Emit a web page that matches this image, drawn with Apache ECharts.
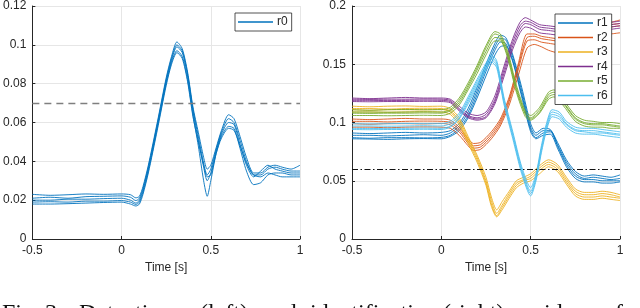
<!DOCTYPE html>
<html>
<head>
<meta charset="utf-8">
<script src="https://cdn.jsdelivr.net/npm/echarts@6/dist/echarts.min.js"></script>
<style>
html,body{margin:0;padding:0;background:#fff;}
#chart{width:640px;height:308px;}
</style>
</head>
<body>
<div id="chart"></div>
<script>
// ---------- data ----------
const X_TICKS = [-0.5, 0, 0.5, 1];
const LEFT_Y_MAX = 0.12, LEFT_Y_STEP = 0.02;
const RIGHT_Y_MAX = 0.2, RIGHT_Y_STEP = 0.05;
const LEFT_THRESHOLD = 0.07;
const RIGHT_THRESHOLD = 0.06;
const X_LABEL = 'Time [s]';
const CAPTION_WORDS = ['Fig.', '3:', 'Detection', '(left)', 'and', 'identification', '(right)', 'residues', 'of'];

// detection residue r0 (left)
const R0_T = [-0.5,-0.4,-0.3,-0.2,-0.1,0,0.05,0.08,0.1,0.12,0.15,0.2,0.25,0.28,0.31,0.34,0.37,0.4,0.43,0.46,0.48,0.5,0.53,0.56,0.6,0.63,0.66,0.7,0.74,0.78,0.82,0.86,0.9,0.95,1.0];
const R0_A = [0.023,0.0225,0.0228,0.0232,0.023,0.0232,0.0228,0.0212,0.022,0.027,0.038,0.06,0.083,0.094,0.1015,0.098,0.086,0.068,0.055,0.042,0.036,0.038,0.047,0.056,0.064,0.062,0.054,0.042,0.034,0.034,0.037,0.038,0.037,0.036,0.038];
const R0_B = [0.021,0.0215,0.021,0.0218,0.022,0.0222,0.0215,0.0198,0.021,0.026,0.037,0.059,0.082,0.093,0.1,0.097,0.085,0.067,0.053,0.039,0.033,0.036,0.046,0.055,0.062,0.06,0.052,0.04,0.033,0.033,0.036,0.037,0.036,0.035,0.035];
const R0_C = [0.02,0.02,0.0205,0.0205,0.0208,0.021,0.02,0.0185,0.02,0.025,0.036,0.058,0.081,0.092,0.099,0.096,0.084,0.066,0.051,0.037,0.03,0.034,0.045,0.054,0.06,0.059,0.05,0.038,0.032,0.035,0.038,0.036,0.035,0.034,0.034];
const R0_D = [0.019,0.0192,0.019,0.0195,0.0195,0.0198,0.019,0.0178,0.019,0.024,0.035,0.057,0.08,0.091,0.097,0.094,0.082,0.064,0.048,0.03,0.022,0.03,0.044,0.053,0.058,0.057,0.048,0.035,0.028,0.029,0.033,0.034,0.034,0.033,0.033];
const R0_E = [0.018,0.018,0.0182,0.0185,0.0188,0.019,0.018,0.017,0.018,0.023,0.034,0.056,0.079,0.09,0.096,0.093,0.081,0.063,0.05,0.038,0.032,0.033,0.044,0.052,0.057,0.056,0.049,0.039,0.033,0.032,0.034,0.033,0.032,0.032,0.032];

// identification residues r1..r6 (right)
const R1_T = [-0.5,-0.4,-0.3,-0.2,-0.1,0,0.05,0.1,0.15,0.2,0.25,0.3,0.33,0.36,0.4,0.45,0.5,0.53,0.57,0.61,0.65,0.7,0.75,0.8,0.85,0.9,0.95,1];
const R1_A = [0.091,0.0905,0.091,0.0915,0.091,0.0915,0.093,0.099,0.112,0.13,0.15,0.168,0.175,0.173,0.158,0.13,0.099,0.091,0.095,0.094,0.083,0.068,0.058,0.054,0.055,0.054,0.053,0.055];
const R1_B = [0.089,0.089,0.0885,0.089,0.0895,0.089,0.091,0.097,0.109,0.127,0.147,0.165,0.172,0.171,0.156,0.127,0.096,0.089,0.093,0.093,0.081,0.066,0.056,0.052,0.053,0.052,0.051,0.052];
const R1_C = [0.087,0.0865,0.087,0.087,0.0868,0.0872,0.089,0.095,0.106,0.124,0.144,0.162,0.169,0.168,0.153,0.124,0.094,0.087,0.091,0.092,0.08,0.064,0.054,0.051,0.051,0.05,0.05,0.05];
const R1_D = [0.086,0.0858,0.0855,0.086,0.0862,0.086,0.088,0.093,0.104,0.121,0.14,0.158,0.165,0.166,0.152,0.122,0.092,0.086,0.089,0.09,0.078,0.062,0.052,0.049,0.049,0.048,0.048,0.049];

const R2_T = [-0.5,-0.4,-0.3,-0.2,-0.1,0,0.05,0.1,0.15,0.18,0.22,0.28,0.33,0.38,0.43,0.48,0.52,0.56,0.6,0.65,0.7,0.75,0.8,0.85,0.9,0.95,1];
const R2_A = [0.103,0.1025,0.103,0.1035,0.103,0.103,0.102,0.096,0.086,0.082,0.083,0.092,0.103,0.122,0.15,0.176,0.176,0.174,0.173,0.172,0.173,0.175,0.178,0.181,0.184,0.186,0.188];
const R2_B = [0.101,0.101,0.1005,0.101,0.1012,0.101,0.1,0.094,0.084,0.08,0.081,0.09,0.101,0.12,0.148,0.173,0.174,0.172,0.171,0.17,0.171,0.173,0.176,0.179,0.182,0.184,0.185];
const R2_C = [0.099,0.0985,0.099,0.099,0.0988,0.0992,0.098,0.092,0.082,0.078,0.079,0.088,0.099,0.118,0.145,0.17,0.171,0.169,0.168,0.167,0.169,0.171,0.174,0.177,0.18,0.182,0.183];
const R2_D = [0.096,0.096,0.0955,0.096,0.0962,0.096,0.095,0.089,0.08,0.076,0.077,0.086,0.097,0.115,0.14,0.164,0.167,0.165,0.162,0.16,0.163,0.166,0.169,0.172,0.175,0.176,0.177];

const R3_T = [-0.5,-0.4,-0.3,-0.2,-0.1,0,0.05,0.1,0.15,0.2,0.25,0.28,0.31,0.34,0.38,0.42,0.46,0.5,0.55,0.6,0.65,0.7,0.75,0.8,0.85,0.9,0.95,1];
const R3_A = [0.114,0.1135,0.114,0.1142,0.1138,0.114,0.112,0.104,0.088,0.072,0.053,0.036,0.025,0.032,0.041,0.05,0.053,0.056,0.063,0.068,0.064,0.053,0.043,0.04,0.04,0.041,0.04,0.038];
const R3_B = [0.112,0.112,0.1115,0.112,0.1122,0.112,0.11,0.102,0.086,0.07,0.05,0.033,0.022,0.029,0.039,0.048,0.051,0.054,0.061,0.066,0.062,0.051,0.041,0.038,0.038,0.039,0.038,0.036];
const R3_C = [0.111,0.1105,0.111,0.111,0.1108,0.1112,0.109,0.1,0.084,0.068,0.048,0.03,0.02,0.027,0.037,0.046,0.05,0.052,0.059,0.064,0.06,0.049,0.039,0.036,0.036,0.037,0.036,0.035];
const R3_D = [0.109,0.109,0.1088,0.109,0.1092,0.109,0.107,0.098,0.082,0.066,0.046,0.028,0.019,0.025,0.035,0.044,0.048,0.05,0.056,0.062,0.058,0.047,0.037,0.034,0.034,0.035,0.034,0.033];

const R4_T = [-0.5,-0.4,-0.3,-0.2,-0.1,0,0.05,0.1,0.15,0.2,0.25,0.3,0.35,0.4,0.44,0.47,0.5,0.55,0.6,0.65,0.7,0.75,0.8,0.85,0.9,0.95,1];
const R4_A = [0.121,0.1205,0.121,0.1215,0.121,0.121,0.12,0.114,0.108,0.106,0.109,0.123,0.148,0.172,0.186,0.19,0.188,0.184,0.183,0.182,0.181,0.18,0.181,0.183,0.185,0.186,0.187];
const R4_B = [0.12,0.1198,0.12,0.12,0.1202,0.12,0.119,0.112,0.106,0.104,0.107,0.12,0.145,0.169,0.183,0.187,0.186,0.182,0.181,0.18,0.179,0.178,0.179,0.181,0.183,0.184,0.185];
const R4_C = [0.119,0.119,0.1188,0.119,0.1192,0.119,0.118,0.111,0.105,0.103,0.105,0.118,0.142,0.166,0.18,0.185,0.184,0.18,0.179,0.178,0.177,0.176,0.177,0.179,0.181,0.182,0.183];
const R4_D = [0.118,0.1178,0.118,0.118,0.1182,0.118,0.117,0.11,0.104,0.102,0.104,0.116,0.139,0.163,0.177,0.182,0.181,0.177,0.176,0.175,0.174,0.174,0.175,0.177,0.179,0.18,0.181];

const R5_T = [-0.5,-0.4,-0.3,-0.2,-0.1,0,0.05,0.1,0.15,0.2,0.25,0.3,0.33,0.37,0.42,0.47,0.5,0.55,0.6,0.63,0.68,0.75,0.8,0.85,0.9,0.95,1];
const R5_A = [0.111,0.1105,0.111,0.1112,0.111,0.111,0.113,0.121,0.134,0.149,0.166,0.178,0.176,0.162,0.132,0.11,0.106,0.113,0.126,0.128,0.12,0.106,0.102,0.101,0.1,0.1,0.099];
const R5_B = [0.109,0.109,0.1088,0.109,0.1092,0.109,0.111,0.119,0.132,0.147,0.164,0.176,0.174,0.16,0.13,0.108,0.104,0.111,0.124,0.126,0.118,0.104,0.1,0.099,0.099,0.098,0.097];
const R5_C = [0.108,0.1078,0.108,0.108,0.1082,0.108,0.11,0.117,0.13,0.145,0.161,0.173,0.172,0.158,0.128,0.107,0.103,0.109,0.122,0.124,0.117,0.103,0.099,0.098,0.098,0.097,0.096];
const R5_D = [0.106,0.106,0.1058,0.106,0.1062,0.106,0.108,0.115,0.128,0.142,0.158,0.17,0.17,0.156,0.126,0.105,0.102,0.108,0.12,0.122,0.115,0.101,0.097,0.096,0.096,0.095,0.095];

const R6_T = [-0.5,-0.4,-0.3,-0.2,-0.1,0,0.05,0.1,0.15,0.2,0.25,0.28,0.31,0.35,0.4,0.45,0.5,0.53,0.56,0.59,0.62,0.66,0.7,0.75,0.8,0.85,0.9,0.95,1];
const R6_A = [0.099,0.0988,0.099,0.0992,0.099,0.099,0.101,0.108,0.122,0.137,0.151,0.158,0.153,0.122,0.092,0.062,0.044,0.056,0.08,0.1,0.111,0.109,0.101,0.096,0.095,0.095,0.094,0.093,0.092];
const R6_B = [0.097,0.097,0.0968,0.097,0.0972,0.097,0.099,0.106,0.12,0.135,0.149,0.156,0.151,0.12,0.09,0.06,0.041,0.054,0.078,0.098,0.109,0.107,0.099,0.094,0.093,0.093,0.092,0.091,0.09];
const R6_C = [0.095,0.0948,0.095,0.095,0.0952,0.095,0.097,0.104,0.118,0.133,0.147,0.154,0.149,0.118,0.088,0.058,0.039,0.052,0.076,0.096,0.107,0.105,0.098,0.093,0.092,0.091,0.091,0.09,0.089];
const R6_D = [0.094,0.0938,0.094,0.094,0.0942,0.094,0.096,0.103,0.116,0.131,0.145,0.152,0.147,0.116,0.086,0.056,0.037,0.05,0.074,0.094,0.105,0.103,0.096,0.091,0.09,0.09,0.089,0.088,0.087];

// ---------- styling ----------
const COLORS = {r0:'#0072BD', r1:'#0072BD', r2:'#D95319', r3:'#EDB120', r4:'#7E2F8E', r5:'#77AC30', r6:'#4DBEEE'};
const GROUPS_LEFT = [{name:'r0', t:R0_T, traces:[R0_A,R0_B,R0_C,R0_D,R0_E]}];
const GROUPS_RIGHT = [
  {name:'r1', t:R1_T, traces:[R1_A,R1_B,R1_C,R1_D]},
  {name:'r2', t:R2_T, traces:[R2_A,R2_B,R2_C,R2_D]},
  {name:'r3', t:R3_T, traces:[R3_A,R3_B,R3_C,R3_D]},
  {name:'r4', t:R4_T, traces:[R4_A,R4_B,R4_C,R4_D]},
  {name:'r5', t:R5_T, traces:[R5_A,R5_B,R5_C,R5_D]},
  {name:'r6', t:R6_T, traces:[R6_A,R6_B,R6_C,R6_D]}
];

const FONT = 'Liberation Sans, Arial, sans-serif';
const TXT = '#262626';
const FS = 12;

function buildSeries(groups, axisIndex) {
  const out = [];
  groups.forEach(g => {
    g.traces.forEach(vals => {
      out.push({
        type: 'line', name: g.name,
        xAxisIndex: axisIndex, yAxisIndex: axisIndex,
        data: g.t.map((t, i) => [t, vals[i]]),
        symbol: 'none', showSymbol: false, smooth: 0.25,
        lineStyle: {color: COLORS[g.name], width: 0.9},
        itemStyle: {color: COLORS[g.name]},
        emphasis: {disabled: true},
        silent: true, animation: false
      });
    });
  });
  return out;
}

function xAxis(gridIndex) {
  return {
    type: 'value', gridIndex, min: X_TICKS[0], max: X_TICKS[X_TICKS.length-1], interval: 0.5,
    name: X_LABEL, nameLocation: 'middle', nameGap: 23,
    nameTextStyle: {color: TXT, fontSize: FS, fontFamily: FONT},
    axisLine: {show: true, onZero: false, lineStyle: {color: TXT, width: 1}},
    axisTick: {show: true, inside: true, length: 3, lineStyle: {color: TXT}},
    axisLabel: {color: TXT, fontSize: FS, fontFamily: FONT, margin: 6},
    splitLine: {show: true, lineStyle: {color: '#e6e6e6', width: 1}}
  };
}
function yAxis(gridIndex, max, step) {
  return {
    type: 'value', gridIndex, min: 0, max, interval: step,
    axisLine: {show: true, onZero: false, lineStyle: {color: TXT, width: 1}},
    axisTick: {show: true, inside: true, length: 3, lineStyle: {color: TXT}},
    axisLabel: {color: TXT, fontSize: FS, fontFamily: FONT, margin: 6},
    splitLine: {show: true, lineStyle: {color: '#e6e6e6', width: 1}}
  };
}

const leftSeries = buildSeries(GROUPS_LEFT, 0);
const rightSeries = buildSeries(GROUPS_RIGHT, 1);

leftSeries[0].markLine = {
  silent: true, symbol: 'none', label: {show: false}, animation: false,
  lineStyle: {color: '#7f7f7f', type: [7, 5], width: 1.4},
  data: [{yAxis: LEFT_THRESHOLD}]
};
rightSeries[0].markLine = {
  silent: true, symbol: 'none', label: {show: false}, animation: false,
  lineStyle: {color: '#111111', type: [6, 2.5, 1.5, 2.5], width: 1},
  data: [{yAxis: RIGHT_THRESHOLD}]
};

const legendCommon = {
  orient: 'vertical', icon: 'rect', itemWidth: 35, itemHeight: 1.5, itemGap: 2.5,
  backgroundColor: '#ffffff', borderColor: TXT, borderWidth: 0.8, borderRadius: 0,
  padding: [3, 4, 3, 3],
  textStyle: {color: TXT, fontSize: FS, fontFamily: FONT, lineHeight: 12, padding: [0, 0, 0, -1]},
  selectedMode: false
};

const captionGraphics = [];
const CAPTION_X = [2, 45, 79, 200, 262, 310, 443, 516, 603];
CAPTION_WORDS.forEach((w, i) => {
  captionGraphics.push({
    type: 'text', left: CAPTION_X[i], top: 302, silent: true,
    style: {text: w, font: '24px "Liberation Serif", "Times New Roman", serif', fill: '#111'}
  });
});

const option = {
  backgroundColor: '#ffffff',
  animation: false,
  grid: [
    {left: 32, right: 340, top: 4, bottom: 69, containLabel: false},
    {left: 352, right: 20, top: 4, bottom: 69, containLabel: false}
  ],
  xAxis: [xAxis(0), xAxis(1)],
  yAxis: [yAxis(0, LEFT_Y_MAX, LEFT_Y_STEP), yAxis(1, RIGHT_Y_MAX, RIGHT_Y_STEP)],
  legend: [
    Object.assign({}, legendCommon, {left: 235, top: 13, data: ['r0']}),
    Object.assign({}, legendCommon, {left: 555, top: 14, data: ['r1','r2','r3','r4','r5','r6']})
  ],
  graphic: captionGraphics,
  series: leftSeries.concat(rightSeries)
};

const chart = echarts.init(document.getElementById('chart'), null, {renderer: 'canvas'});
chart.setOption(option);
</script>
</body>
</html>
